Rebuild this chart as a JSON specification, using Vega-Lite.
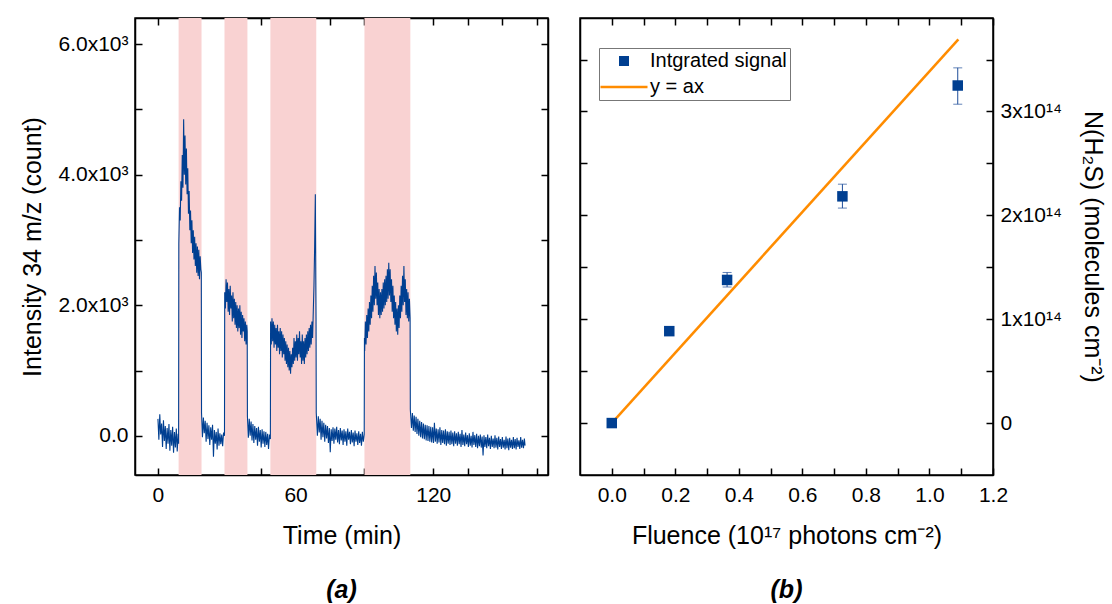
{
  "$schema": "https://vega.github.io/schema/vega-lite/v6.json",
  "background": "white",
  "padding": {"left": 20, "top": 16, "right": 5, "bottom": 5},
  "spacing": 28,
  "resolve": {"scale": {"color": "independent", "stroke": "independent"}},
  "config": {
    "font": "Liberation Sans",
    "view": {"stroke": "#000", "strokeWidth": 1.5},
    "axis": {
      "labelFont": "Liberation Sans", "titleFont": "Liberation Sans",
      "labelFontSize": 21, "titleFontSize": 25, "titleFontWeight": "normal",
      "labelColor": "#000", "titleColor": "#000", "tickColor": "#000", "domainColor": "#000",
      "domainWidth": 1.5, "tickWidth": 1.5, "grid": false, "labelOverlap": false, "labelFlush": false
    },
    "title": {"font": "Liberation Sans", "color": "#000"}
  },
  "datasets": {
    "bands": [
      {"start": 9, "end": 19}, {"start": 29, "end": 39}, {"start": 49, "end": 69}, {"start": 90, "end": 110}
    ],
    "series": [
      {"t":0,"v":260},{"t":0.4,"v":-60},{"t":0.8,"v":330},{"t":1.2,"v":20},{"t":1.6,"v":190},{"t":2.0,"v":-170},{"t":2.4,"v":240},{"t":2.8,"v":-80},{"t":3.2,"v":150},{"t":3.6,"v":-200},{"t":4.0,"v":120},{"t":4.4,"v":-120},{"t":4.8,"v":180},{"t":5.2,"v":-230},{"t":5.6,"v":90},{"t":6.0,"v":-150},{"t":6.4,"v":140},{"t":6.8,"v":-260},{"t":7.2,"v":60},{"t":7.6,"v":-180},{"t":8.0,"v":110},{"t":8.4,"v":-240},{"t":8.8,"v":30},{"t":9.0,"v":-120},
      {"t":9.1,"v":2950},{"t":9.4,"v":3500},{"t":9.7,"v":3300},{"t":10.0,"v":3900},{"t":10.3,"v":3600},{"t":10.6,"v":4300},{"t":10.9,"v":3800},{"t":11.2,"v":4850},{"t":11.5,"v":4000},{"t":11.8,"v":4600},{"t":12.1,"v":3850},{"t":12.4,"v":4400},{"t":12.7,"v":3700},{"t":13.0,"v":4100},{"t":13.3,"v":3400},{"t":13.6,"v":3750},{"t":13.9,"v":3150},{"t":14.2,"v":3450},{"t":14.5,"v":2950},{"t":14.8,"v":3300},{"t":15.1,"v":2800},{"t":15.4,"v":3150},{"t":15.7,"v":2700},{"t":16.0,"v":3050},{"t":16.3,"v":2600},{"t":16.6,"v":2950},{"t":16.9,"v":2500},{"t":17.2,"v":2900},{"t":17.5,"v":2450},{"t":17.8,"v":2850},{"t":18.1,"v":2400},{"t":18.4,"v":2750},{"t":18.7,"v":2550},{"t":18.9,"v":2500},
      {"t":19.0,"v":350},{"t":19.4,"v":-20},{"t":19.8,"v":280},{"t":20.2,"v":40},{"t":20.6,"v":230},{"t":21.0,"v":-90},{"t":21.4,"v":200},{"t":21.8,"v":-50},{"t":22.2,"v":160},{"t":22.6,"v":-140},{"t":23.0,"v":130},{"t":23.4,"v":-60},{"t":23.8,"v":170},{"t":24.2,"v":-320},{"t":24.6,"v":90},{"t":25.0,"v":-120},{"t":25.4,"v":60},{"t":25.8,"v":-210},{"t":26.2,"v":110},{"t":26.6,"v":-150},{"t":27.0,"v":40},{"t":27.4,"v":-130},{"t":27.8,"v":20},{"t":28.2,"v":-160},{"t":28.6,"v":50},{"t":29.0,"v":0},
      {"t":29.1,"v":2200},{"t":29.4,"v":1950},{"t":29.7,"v":2400},{"t":30.0,"v":2050},{"t":30.3,"v":2350},{"t":30.6,"v":1900},{"t":30.9,"v":2250},{"t":31.2,"v":1850},{"t":31.5,"v":2300},{"t":31.8,"v":1950},{"t":32.1,"v":2150},{"t":32.4,"v":1750},{"t":32.7,"v":2200},{"t":33.0,"v":1800},{"t":33.3,"v":2100},{"t":33.6,"v":1700},{"t":33.9,"v":2050},{"t":34.2,"v":1650},{"t":34.5,"v":2000},{"t":34.8,"v":1600},{"t":35.1,"v":1950},{"t":35.4,"v":1650},{"t":35.7,"v":2000},{"t":36.0,"v":1550},{"t":36.3,"v":1900},{"t":36.6,"v":1500},{"t":36.9,"v":1850},{"t":37.2,"v":1600},{"t":37.5,"v":1800},{"t":37.8,"v":1450},{"t":38.1,"v":1750},{"t":38.4,"v":1400},{"t":38.7,"v":1700},{"t":38.9,"v":1600},
      {"t":39.0,"v":300},{"t":39.4,"v":-30},{"t":39.8,"v":260},{"t":40.2,"v":0},{"t":40.6,"v":220},{"t":41.0,"v":-70},{"t":41.4,"v":180},{"t":41.8,"v":-110},{"t":42.2,"v":150},{"t":42.6,"v":-60},{"t":43.0,"v":120},{"t":43.4,"v":-150},{"t":43.8,"v":140},{"t":44.2,"v":-90},{"t":44.6,"v":90},{"t":45.0,"v":-180},{"t":45.4,"v":100},{"t":45.8,"v":-120},{"t":46.2,"v":70},{"t":46.6,"v":-170},{"t":47.0,"v":60},{"t":47.4,"v":-140},{"t":47.8,"v":30},{"t":48.2,"v":-200},{"t":48.6,"v":20},{"t":49.0,"v":-50},
      {"t":49.1,"v":1750},{"t":49.4,"v":1400},{"t":49.7,"v":1800},{"t":50.0,"v":1450},{"t":50.3,"v":1750},{"t":50.6,"v":1350},{"t":50.9,"v":1700},{"t":51.2,"v":1400},{"t":51.5,"v":1650},{"t":51.8,"v":1300},{"t":52.1,"v":1700},{"t":52.4,"v":1350},{"t":52.7,"v":1600},{"t":53.0,"v":1250},{"t":53.3,"v":1650},{"t":53.6,"v":1300},{"t":53.9,"v":1600},{"t":54.2,"v":1200},{"t":54.5,"v":1550},{"t":54.8,"v":1250},{"t":55.1,"v":1500},{"t":55.4,"v":1150},{"t":55.7,"v":1450},{"t":56.0,"v":1100},{"t":56.3,"v":1400},{"t":56.6,"v":1050},{"t":56.9,"v":1350},{"t":57.2,"v":1000},{"t":57.5,"v":1300},{"t":57.8,"v":950},{"t":58.1,"v":1250},{"t":58.4,"v":1050},{"t":58.7,"v":1350},{"t":59.0,"v":1100},{"t":59.3,"v":1500},{"t":59.6,"v":1150},{"t":59.9,"v":1450},{"t":60.2,"v":1200},{"t":60.5,"v":1550},{"t":60.8,"v":1150},{"t":61.1,"v":1500},{"t":61.4,"v":1250},{"t":61.7,"v":1600},{"t":62.0,"v":1200},{"t":62.3,"v":1450},{"t":62.6,"v":1100},{"t":62.9,"v":1550},{"t":63.2,"v":1150},{"t":63.5,"v":1450},{"t":63.8,"v":1100},{"t":64.1,"v":1500},{"t":64.4,"v":1200},{"t":64.7,"v":1550},{"t":65.0,"v":1250},{"t":65.3,"v":1600},{"t":65.6,"v":1300},{"t":65.9,"v":1650},{"t":66.2,"v":1350},{"t":66.5,"v":1700},{"t":66.8,"v":1400},{"t":67.1,"v":1750},{"t":67.4,"v":1500},{"t":67.7,"v":1900},{"t":68.0,"v":2300},{"t":68.3,"v":2900},{"t":68.6,"v":3700},{"t":68.8,"v":2400},{"t":68.9,"v":1800},
      {"t":69.0,"v":350},{"t":69.5,"v":0},{"t":69.9,"v":300},{"t":70.3,"v":50},{"t":70.7,"v":260},{"t":71.1,"v":-60},{"t":71.5,"v":230},{"t":71.9,"v":-20},{"t":72.3,"v":200},{"t":72.7,"v":-90},{"t":73.1,"v":170},{"t":73.5,"v":-40},{"t":73.9,"v":150},{"t":74.3,"v":-110},{"t":74.7,"v":120},{"t":75.1,"v":-250},{"t":75.5,"v":100},{"t":75.9,"v":-80},{"t":76.3,"v":130},{"t":76.7,"v":-120},{"t":77.1,"v":110},{"t":77.5,"v":-60},{"t":77.9,"v":140},{"t":78.3,"v":-100},{"t":78.7,"v":90},{"t":79.1,"v":-130},{"t":79.5,"v":120},{"t":79.9,"v":-70},{"t":80.3,"v":80},{"t":80.7,"v":-140},{"t":81.1,"v":100},{"t":81.5,"v":-90},{"t":81.9,"v":70},{"t":82.3,"v":-150},{"t":82.7,"v":110},{"t":83.1,"v":-60},{"t":83.5,"v":60},{"t":83.9,"v":-130},{"t":84.3,"v":90},{"t":84.7,"v":-100},{"t":85.1,"v":50},{"t":85.5,"v":-160},{"t":85.9,"v":80},{"t":86.3,"v":-90},{"t":86.7,"v":40},{"t":87.1,"v":-140},{"t":87.5,"v":70},{"t":87.9,"v":-110},{"t":88.3,"v":30},{"t":88.7,"v":-150},{"t":89.1,"v":60},{"t":89.5,"v":-90},{"t":89.9,"v":20},
      {"t":90.0,"v":1500},{"t":90.1,"v":1300},{"t":90.4,"v":1750},{"t":90.7,"v":1400},{"t":91.0,"v":1850},{"t":91.3,"v":1500},{"t":91.6,"v":1950},{"t":91.9,"v":1600},{"t":92.2,"v":2050},{"t":92.5,"v":1700},{"t":92.8,"v":2150},{"t":93.1,"v":1800},{"t":93.4,"v":2300},{"t":93.7,"v":1900},{"t":94.0,"v":2450},{"t":94.3,"v":2000},{"t":94.6,"v":2600},{"t":94.9,"v":2100},{"t":95.2,"v":2500},{"t":95.5,"v":2000},{"t":95.8,"v":2350},{"t":96.1,"v":1850},{"t":96.4,"v":2250},{"t":96.7,"v":1800},{"t":97.0,"v":2200},{"t":97.3,"v":1850},{"t":97.6,"v":2250},{"t":97.9,"v":1900},{"t":98.2,"v":2350},{"t":98.5,"v":1950},{"t":98.8,"v":2400},{"t":99.1,"v":2000},{"t":99.4,"v":2450},{"t":99.7,"v":2050},{"t":100.0,"v":2550},{"t":100.3,"v":2100},{"t":100.6,"v":2650},{"t":100.9,"v":2150},{"t":101.2,"v":2550},{"t":101.5,"v":2050},{"t":101.8,"v":2400},{"t":102.1,"v":1900},{"t":102.4,"v":2300},{"t":102.7,"v":1800},{"t":103.0,"v":2150},{"t":103.3,"v":1700},{"t":103.6,"v":2050},{"t":103.9,"v":1600},{"t":104.2,"v":1950},{"t":104.5,"v":1550},{"t":104.8,"v":2000},{"t":105.1,"v":1650},{"t":105.4,"v":2150},{"t":105.7,"v":1800},{"t":106.0,"v":2300},{"t":106.3,"v":1900},{"t":106.6,"v":2450},{"t":106.9,"v":2000},{"t":107.2,"v":2600},{"t":107.5,"v":2050},{"t":107.8,"v":2400},{"t":108.1,"v":1850},{"t":108.4,"v":2250},{"t":108.7,"v":1800},{"t":109.0,"v":2200},{"t":109.3,"v":1750},{"t":109.6,"v":2100},{"t":109.9,"v":1800},
      {"t":110.0,"v":400},{"t":110.5,"v":120},{"t":110.9,"v":350},{"t":111.3,"v":80},{"t":111.7,"v":310},{"t":112.1,"v":60},{"t":112.5,"v":290},{"t":112.9,"v":30},{"t":113.3,"v":260},{"t":113.7,"v":0},{"t":114.1,"v":230},{"t":114.5,"v":-20},{"t":114.9,"v":210},{"t":115.3,"v":-40},{"t":115.7,"v":190},{"t":116.1,"v":-50},{"t":116.5,"v":170},{"t":116.9,"v":-70},{"t":117.3,"v":160},{"t":117.7,"v":-80},{"t":118.1,"v":150},{"t":118.5,"v":-90},{"t":118.9,"v":140},{"t":119.3,"v":-100},{"t":119.7,"v":130},{"t":120.1,"v":-110},{"t":120.5,"v":200},{"t":120.9,"v":-90},{"t":121.3,"v":110},{"t":121.7,"v":-120},{"t":122.1,"v":100},{"t":122.5,"v":-100},{"t":122.9,"v":130},{"t":123.3,"v":-140},{"t":123.7,"v":90},{"t":124.1,"v":-110},{"t":124.5,"v":80},{"t":124.9,"v":-130},{"t":125.3,"v":100},{"t":125.7,"v":-150},{"t":126.1,"v":70},{"t":126.5,"v":-120},{"t":126.9,"v":60},{"t":127.3,"v":-140},{"t":127.7,"v":80},{"t":128.1,"v":-130},{"t":128.5,"v":50},{"t":128.9,"v":-160},{"t":129.3,"v":70},{"t":129.7,"v":-120},{"t":130.1,"v":40},{"t":130.5,"v":-150},{"t":130.9,"v":60},{"t":131.3,"v":-130},{"t":131.7,"v":30},{"t":132.1,"v":-170},{"t":132.5,"v":90},{"t":132.9,"v":-140},{"t":133.3,"v":20},{"t":133.7,"v":-160},{"t":134.1,"v":50},{"t":134.5,"v":-130},{"t":134.9,"v":10},{"t":135.3,"v":-170},{"t":135.7,"v":40},{"t":136.1,"v":-150},{"t":136.5,"v":0},{"t":136.9,"v":-180},{"t":137.3,"v":60},{"t":137.7,"v":-140},{"t":138.1,"v":10},{"t":138.5,"v":-170},{"t":138.9,"v":30},{"t":139.3,"v":-190},{"t":139.7,"v":0},{"t":140.1,"v":-160},{"t":140.5,"v":20},{"t":140.9,"v":-180},{"t":141.3,"v":-10},{"t":141.7,"v":-300},{"t":142.1,"v":10},{"t":142.5,"v":-170},{"t":142.9,"v":-20},{"t":143.3,"v":-190},{"t":143.7,"v":20},{"t":144.1,"v":-160},{"t":144.5,"v":-30},{"t":144.9,"v":-200},{"t":145.3,"v":0},{"t":145.7,"v":-170},{"t":146.1,"v":-40},{"t":146.5,"v":-190},{"t":146.9,"v":10},{"t":147.3,"v":-180},{"t":147.7,"v":-30},{"t":148.1,"v":-210},{"t":148.5,"v":-10},{"t":148.9,"v":-170},{"t":149.3,"v":-50},{"t":149.7,"v":-200},{"t":150.1,"v":-20},{"t":150.5,"v":-180},{"t":150.9,"v":-60},{"t":151.3,"v":-210},{"t":151.7,"v":-10},{"t":152.1,"v":-190},{"t":152.5,"v":-40},{"t":152.9,"v":-220},{"t":153.3,"v":-30},{"t":153.7,"v":-180},{"t":154.1,"v":-60},{"t":154.5,"v":-200},{"t":154.9,"v":-20},{"t":155.3,"v":-190},{"t":155.7,"v":-50},{"t":156.1,"v":-210},{"t":156.5,"v":-30},{"t":156.9,"v":-170},{"t":157.3,"v":-70},{"t":157.7,"v":-200},{"t":158.1,"v":-20},{"t":158.5,"v":-180},{"t":158.9,"v":-60},{"t":159.3,"v":-190},{"t":159.7,"v":-40},{"t":160.0,"v":-150}
    ],
    "points": [
      {"f": 0, "n": 0, "lo": 0, "hi": 0},
      {"f": 0.181, "n": 8.85e13, "lo": 8.7e13, "hi": 9.0e13},
      {"f": 0.363, "n": 1.378e14, "lo": 1.31e14, "hi": 1.45e14},
      {"f": 0.726, "n": 2.183e14, "lo": 2.07e14, "hi": 2.30e14},
      {"f": 1.089, "n": 3.25e14, "lo": 3.07e14, "hi": 3.42e14}
    ],
    "fit": [
      {"f": 0, "n": 0},
      {"f": 1.091, "n": 3.695e14}
    ]
  },
  "hconcat": [
    {
      "width": 413, "height": 457,
      "title": {"text": "(a)", "orient": "bottom", "frame": "group", "anchor": "middle", "fontSize": 25, "fontStyle": "italic", "fontWeight": "bold", "offset": 30},
      "resolve": {"axis": {"x": "independent", "y": "independent"}},
      "layer": [
        {
          "data": {"name": "bands"},
          "mark": {"type": "rect", "color": "#F9D2D2"},
          "encoding": {
            "x": {"field": "start", "type": "quantitative", "scale": {"domain": [-10, 170], "nice": false, "zero": false},
                  "axis": {"orient": "top", "values": [0,15,30,45,60,75,90,105,120,135,150,165], "labels": false, "title": null, "tickSize": -7}},
            "x2": {"field": "end"},
            "y": {"datum": -600, "type": "quantitative", "scale": {"domain": [-600, 6400], "nice": false, "zero": false},
                  "axis": {"orient": "right", "values": [0,1000,2000,3000,4000,5000,6000], "labels": false, "title": null, "tickSize": -7}},
            "y2": {"datum": 6400}
          }
        },
        {
          "data": {"name": "series"},
          "mark": {"type": "line", "color": "#003F91", "strokeWidth": 1.1},
          "encoding": {
            "x": {"field": "t", "type": "quantitative",
                  "axis": {"orient": "bottom", "values": [0,15,30,45,60,75,90,105,120,135,150,165], "labelExpr": "datum.value % 60 == 0 ? datum.label : ''", "tickSize": -7, "labelPadding": 16, "title": "Time (min)", "titlePadding": 18}},
            "y": {"field": "v", "type": "quantitative",
                  "axis": {"orient": "left", "values": [0,1000,2000,3000,4000,5000,6000], "labelExpr": "datum.value % 2000 == 0 ? (datum.value == 0 ? '0.0' : format(datum.value/1000, '.1f') + 'x10³') : ''", "tickSize": -7, "labelPadding": 14, "title": "Intensity 34 m/z (count)", "titlePadding": 12}}
          }
        }
      ]
    },
    {
      "width": 413, "height": 457,
      "title": {"text": "(b)", "orient": "bottom", "frame": "group", "anchor": "middle", "fontSize": 25, "fontStyle": "italic", "fontWeight": "bold", "offset": 30},
      "resolve": {"axis": {"x": "independent", "y": "independent"}},
      "layer": [
        {
          "data": {"name": "fit"},
          "mark": {"type": "line", "strokeWidth": 2.5},
          "encoding": {
            "x": {"field": "f", "type": "quantitative", "scale": {"domain": [-0.1, 1.2], "nice": false, "zero": false},
                  "axis": {"orient": "top", "values": [0,0.1,0.2,0.3,0.4,0.5,0.6,0.7,0.8,0.9,1.0,1.1,1.2], "labels": false, "title": null, "tickSize": -7}},
            "y": {"field": "n", "type": "quantitative", "scale": {"domain": [-5e13, 3.9e14], "nice": false, "zero": false},
                  "axis": {"orient": "left", "values": [0,5e13,1e14,1.5e14,2e14,2.5e14,3e14,3.5e14], "labels": false, "title": null, "tickSize": -7}},
            "stroke": {"datum": "y = ax", "type": "nominal", "scale": {"domain": ["y = ax"], "range": ["#FF8C00"]},
                       "legend": {"orient": "none", "legendX": 34, "legendY": 59, "title": null, "padding": 0, "symbolType": "M-4.7,0H4.7", "symbolSize": 100, "symbolStrokeWidth": 2.5, "symbolOffset": 0, "labelFontSize": 20, "labelExpr": "''"}}
          }
        },
        {
          "data": {"name": "points"},
          "mark": {"type": "errorbar", "ticks": {"size": 9}, "color": "#1F4E9A", "thickness": 1},
          "encoding": {
            "x": {"field": "f", "type": "quantitative", "axis": null},
            "y": {"field": "lo", "type": "quantitative", "axis": null},
            "y2": {"field": "hi"}
          }
        },
        {
          "data": {"name": "points"},
          "mark": {"type": "square", "size": 110, "filled": true, "opacity": 1},
          "encoding": {
            "x": {"field": "f", "type": "quantitative",
                  "axis": {"orient": "bottom", "values": [0,0.1,0.2,0.3,0.4,0.5,0.6,0.7,0.8,0.9,1.0,1.1,1.2], "labelExpr": "round(datum.value*10) % 2 == 0 ? format(datum.value, '.1f') : ''", "tickSize": -7, "labelPadding": 16, "title": "Fluence (10¹⁷ photons cm⁻²)", "titlePadding": 18}},
            "y": {"field": "n", "type": "quantitative",
                  "axis": {"orient": "right", "values": [0,5e13,1e14,1.5e14,2e14,2.5e14,3e14,3.5e14], "labelExpr": "datum.value == 0 ? '0' : (datum.value % 1e14 == 0 ? format(datum.value/1e14, 'd') + 'x10¹⁴' : '')", "tickSize": -7, "labelPadding": 14, "title": "N(H₂S) (molecules cm⁻²)", "titleAngle": 90, "titlePadding": 18}},
            "color": {"datum": "Intgrated signal", "type": "nominal",
                      "scale": {"domain": ["Intgrated signal", "y = ax"], "range": ["#003F91", "transparent"]},
                      "legend": {"orient": "none", "legendX": 19, "legendY": 30, "title": null, "strokeColor": "#777", "padding": 3, "symbolType": "square", "symbolSize": 100, "symbolOffset": 12, "labelFontSize": 20, "labelFont": "Liberation Sans", "labelColor": "#000", "labelOffset": 16, "rowPadding": 6}}
          }
        }
      ]
    }
  ]
}
